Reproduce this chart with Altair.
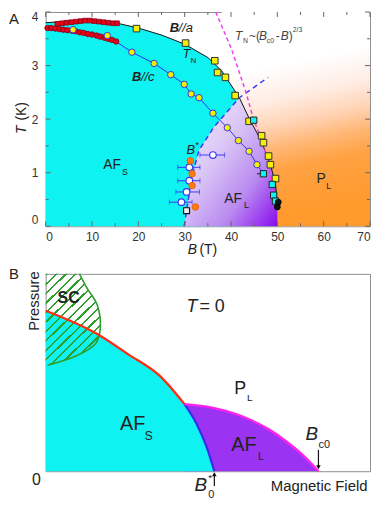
import altair as alt
import pandas as pd

FONT = "Liberation Sans"
WA, HA = 327, 216
WB, HB = 327, 199

# ---------------- Panel A data ----------------
x_ticks = [0, 10, 20, 30, 40, 50, 60, 70]
x_minor = [5, 15, 25, 35, 45, 55, 65]
y_ticks = [0, 1, 2, 3, 4]
y_minor = [0.5, 1.5, 2.5, 3.5]

# T_N boundary (B//a, black curve)
tn_B = [0, 5, 9, 15, 20, 25, 30, 35, 38, 41.8, 44, 46.5, 48.5, 49.6, 50]
tn_T = [3.8, 3.83, 3.85, 3.8, 3.7, 3.57, 3.4, 3.15, 2.9, 2.4, 2.0, 1.6, 1.15, 0.8, 0.42]

# AF_L region upper edge (B* line then T_N)
afl_B = [29.9, 30.6, 31.6, 33.1, 36.3, 41.8, 44, 46.5, 48.5, 49.6, 50]
afl_T = [0, 0.4, 0.95, 1.42, 1.85, 2.4, 2.0, 1.6, 1.15, 0.8, 0.42]

# P_L shaded band
pl_B = [38]
pl_B2 = [70]

# B* dashed line
bs_B = [29.9, 30.6, 31.6, 33.1, 36.3, 41.8, 48]
bs_T = [0, 0.4, 0.95, 1.42, 1.85, 2.4, 2.78]

# T_N ~ (Bc0-B)^(2/3) dashed line
sc_B = [36.7, 40.1, 43.2, 44.9, 46.4, 48.1, 48.9, 49.7]
sc_T = [4.0, 3.31, 2.51, 1.98, 1.67, 1.18, 0.69, 0.35]

# B//c line
bc_B = [0, 5.9, 13.3, 18.6, 23.4, 27.0, 29.9, 31.4, 33.1, 36.1, 39.2, 41.6, 43.9, 45.6, 47.0]
bc_T = [3.7, 3.67, 3.56, 3.25, 3.04, 2.83, 2.65, 2.47, 2.40, 2.11, 1.84, 1.6, 1.4, 1.15, 0.98]

red_sq_B = [2.5, 3.5, 4.5, 5.5, 6.5, 7.5, 8.5, 9.5, 10.5, 11.5, 12.5, 13.5, 14.5, 15.4]
red_sq_T = [3.78, 3.79, 3.8, 3.81, 3.82, 3.83, 3.84, 3.84, 3.83, 3.82, 3.81, 3.8, 3.79, 3.79]

red_ci_B = [0.4, 1.2, 2.1, 3.0, 3.8, 4.7, 5.7, 6.5, 7.4, 8.2, 9.1, 10.0, 11.0, 11.8, 12.7, 13.5, 14.3, 15.2]
red_ci_T = [3.70, 3.70, 3.69, 3.68, 3.67, 3.66, 3.65, 3.64, 3.62, 3.61, 3.59, 3.58, 3.56, 3.54, 3.52, 3.50, 3.48, 3.45]

yel_ci_B = [5.9, 13.3, 18.6, 23.4, 27.0, 29.9, 31.4, 33.1, 36.1, 39.2, 41.6, 43.9, 45.6]
yel_ci_T = [3.67, 3.56, 3.25, 3.04, 2.83, 2.65, 2.47, 2.40, 2.11, 1.84, 1.6, 1.4, 1.15]

yel_sq_B = [19.6, 30.2, 36.5, 37.1, 38.8, 40.9, 43.9, 46.6, 47.0, 48.1, 48.5, 49.6]
yel_sq_T = [3.69, 3.42, 3.09, 2.87, 2.78, 2.44, 1.96, 1.69, 1.56, 1.31, 1.15, 0.89]

cy_sq_B = [44.9, 47.0, 48.9, 49.2, 49.6]
cy_sq_T = [1.98, 0.98, 0.78, 0.58, 0.47]
cy_lo = [44.9, 45.6, 48.9, 49.2, 49.6]
cy_hi = [44.9, 47.6, 48.9, 49.2, 49.6]

blk_ci_B = [50.2, 50.0]
blk_ci_T = [0.45, 0.36]

open_B = [36.1, 31.0, 31.0, 30.4, 29.3]
open_T = [1.33, 1.1, 0.85, 0.64, 0.45]
open_lo = [33.3, 28.5, 28.5, 28.1, 26.7]
open_hi = [38.6, 33.3, 33.3, 33.2, 31.6]

or_B = [31.2, 31.6, 31.6, 32.3]
or_T = [1.22, 0.98, 0.76, 0.36]

osq_B = [30.4]
osq_T = [0.29]

# ---------------- Panel B data (arbitrary units 0-100) ----------------
red_X = [0, 15.9, 25.1, 35.2, 42.8]
red_Y = [81.3, 69.5, 59.6, 48.3, 34.0]
blue_X = [42.8, 46.5, 49.5, 52.0]
blue_Y = [34.0, 24.1, 12.8, 0]
mag_X = [42.8, 50.5, 60.9, 68.8, 74.0, 80.1, 84.1]
mag_Y = [34.0, 32.5, 27.6, 21.2, 15.3, 6.9, 0]
scr_X = [0.6, 8.9, 15.3, 16.8, 15.9, 12.8, 10.4]
scr_Y = [53.7, 58.1, 64.5, 71.9, 84.2, 92.6, 100]

CYAN = "#0EF2F2"

# ---------------- helpers ----------------
xA = alt.Scale(domain=[0, 70], nice=False, zero=False)
yA = alt.Scale(domain=[0, 4], nice=False, zero=False)
axX = alt.Axis(values=x_ticks, ticks=False, domain=False, grid=False, labelPadding=5,
               title=None, labelFontSize=12, labelFont=FONT, labelColor="#333")
axY = alt.Axis(values=y_ticks, ticks=False, domain=False, grid=False, labelPadding=8,
               title=None, labelFontSize=12, labelFont=FONT, labelColor="#333", labelFlush=True)


def XA(f="B"):
    return alt.X(f"{f}:Q", scale=xA, axis=axX)


def YA(f="T"):
    return alt.Y(f"{f}:Q", scale=yA, axis=axY)


xB = alt.Scale(domain=[0, 100], nice=False, zero=False)
yB = alt.Scale(domain=[0, 100], nice=False, zero=False)


def XB(f="X"):
    return alt.X(f"{f}:Q", scale=xB, axis=None)


def YB(f="Y"):
    return alt.Y(f"{f}:Q", scale=yB, axis=None)


def ya(v):  # reference pixel offset inside panel A -> this panel
    return v * HA / 220.0 if v <= 220 else HA + (v - 220)


def yb(v):  # reference pixel offset inside panel B -> this panel
    return v * HB / 203.0 if v <= 203 else HB + (v - 203)


def label(text, x, y, size=13, style="normal", weight="normal", align="left",
          baseline="middle", angle=None, color="#222"):
    kw = dict(text=text, fontSize=size, fontStyle=style, fontWeight=weight, align=align,
              baseline=baseline, color=color, font=FONT)
    if angle is not None:
        kw["angle"] = angle
    return alt.Chart(pd.DataFrame({"a": [0]})).mark_text(**kw).encode(
        x=alt.value(x), y=alt.value(y))


def grad(stops, x1=0, y1=0, x2=0, y2=1):
    return alt.Gradient(gradient="linear", x1=x1, y1=y1, x2=x2, y2=y2,
                        stops=[alt.GradientStop(color=c, offset=o) for o, c in stops])


def df(**kw):
    return pd.DataFrame(kw)


def pts(B, T, shape, size, fill, stroke, sw=1.0):
    return alt.Chart(df(B=B, T=T)).mark_point(
        shape=shape, size=size, filled=True, fill=fill, stroke=stroke, strokeWidth=sw,
        opacity=1, fillOpacity=1).encode(x=XA(), y=YA())


# ---------------- Panel A layers ----------------
orange = alt.Chart(df(B=pl_B, B2=pl_B2, T=[4], T2=[0])).mark_rect(
    color=grad([(0, "#FFFFFF"), (0.3, "#FFFFFF"), (0.45, "#FFEDE4"), (0.57, "#FFD4B6"),
                (0.67, "#FFB878"), (0.78, "#FFA243"), (1, "#FF9A2C")], x1=0, y1=0.0, x2=0.15, y2=1.0)
).encode(x=XA(), x2="B2:Q", y=YA(), y2="T2:Q")

cyan = alt.Chart(df(B=tn_B, T=tn_T)).mark_area(color=CYAN, opacity=1).encode(x=XA(), y=YA())

lav = alt.Chart(df(B=afl_B, T=afl_T)).mark_area(
    color=grad([(0, "#F4EFFC"), (0.4, "#DAC6F6"), (0.7, "#B98AF0"), (1, "#8A0BEE")],
               x1=0, y1=0, x2=1, y2=1), opacity=1).encode(x=XA(), y=YA())

tn_line = alt.Chart(df(B=tn_B, T=tn_T)).mark_line(color="#111", strokeWidth=1).encode(x=XA(), y=YA())
bc_line = alt.Chart(df(B=bc_B, T=bc_T)).mark_line(color="#3030F0", strokeWidth=1).encode(x=XA(), y=YA())
bs_line = alt.Chart(df(B=bs_B, T=bs_T)).mark_line(color="#3A3AF5", strokeWidth=1.5,
                                                  strokeDash=[5, 4]).encode(x=XA(), y=YA())
sc_line = alt.Chart(df(B=sc_B, T=sc_T)).mark_line(color="#F03CF0", strokeWidth=1.5,
                                                  strokeDash=[4, 3], clip=True).encode(x=XA(), y=YA())

err_open = alt.Chart(df(B=open_lo, B2=open_hi, T=open_T)).mark_rule(color="#3A3AF5", strokeWidth=1).encode(
    x=XA(), x2="B2:Q", y=YA())
cap_lo = alt.Chart(df(B=open_lo, T=open_T)).mark_tick(orient="vertical", size=5, thickness=1,
                                                      color="#3A3AF5").encode(x=XA(), y=YA())
cap_hi = alt.Chart(df(B=open_hi, T=open_T)).mark_tick(orient="vertical", size=5, thickness=1,
                                                      color="#3A3AF5").encode(x=XA(), y=YA())
err_cy = alt.Chart(df(B=cy_lo, B2=cy_hi, T=cy_sq_T)).mark_rule(color="#222", strokeWidth=1).encode(
    x=XA(), x2="B2:Q", y=YA())

m_red_sq = pts(red_sq_B, red_sq_T, "square", 22, "#E5001B", "#8A0010", 0.8)
m_red_ci = pts(red_ci_B, red_ci_T, "circle", 30, "#E5001B", "#7A0010", 0.8)
m_yel_sq = pts(yel_sq_B, yel_sq_T, "square", 44, "#F4F000", "#333", 1)
m_yel_ci = pts(yel_ci_B, yel_ci_T, "circle", 42, "#F4F000", "#3535E0", 1)
m_cy_sq = pts(cy_sq_B, cy_sq_T, "square", 40, CYAN, "#222", 1)
m_blk = pts(blk_ci_B, blk_ci_T, "circle", 34, "#111", "#000", 1)
m_or = pts(or_B, or_T, "circle", 44, "#FF7A12", "#E06000", 0.8)
m_open = pts(open_B, open_T, "circle", 44, "#FFFFFF", "#3A3AF5", 1.2)
m_osq = pts(osq_B, osq_T, "square", 36, "#EEEEEE", "#111", 1.2)

# inner ticks
tk = []
for vals, ln in ((x_ticks, 5), (x_minor, 3)):
    d = df(B=vals)
    tk.append(alt.Chart(d).mark_rule(color="#666").encode(x=XA(), y=alt.value(HA), y2=alt.value(HA - ln)))
    tk.append(alt.Chart(d).mark_rule(color="#666").encode(x=XA(), y=alt.value(0), y2=alt.value(ln)))
for vals, ln in ((y_ticks, 5), (y_minor, 3)):
    d = df(T=vals)
    tk.append(alt.Chart(d).mark_rule(color="#666").encode(y=YA(), x=alt.value(0), x2=alt.value(ln)))
    tk.append(alt.Chart(d).mark_rule(color="#666").encode(y=YA(), x=alt.value(WA), x2=alt.value(WA - ln)))

textsA = [
    label("A", -37, 0, 15, baseline="top"),
    label("B", 125, ya(16), 13, style="italic", weight="bold"),
    label("//a", 134, ya(16), 13, style="italic"),
    label("T", 138, ya(43), 13, style="italic"),
    label("N", 146, ya(50), 8),
    label("B", 87, ya(67), 13, style="italic", weight="bold"),
    label("//c", 96, ya(67), 13, style="italic"),
    label("B", 142, ya(142), 13, style="italic"),
    label("*", 151, ya(137), 9),
    label("AF", 58, ya(157), 14),
    label("S", 77, ya(164), 9),
    label("AF", 180, ya(192), 14),
    label("L", 200, ya(198), 9),
    label("P", 273, ya(172), 14),
    label("L", 283, ya(179), 9),
    label("T", 191, ya(25), 12, style="italic", color="#444"),
    label("N", 199, ya(30), 7, color="#444"),
    label("~(", 205, ya(25), 12, color="#444"),
    label("B", 215, ya(25), 12, style="italic", color="#444"),
    label("c0", 223, ya(30), 7, color="#444"),
    label("-", 232, ya(25), 12, color="#444"),
    label("B", 237, ya(25), 12, style="italic", color="#444"),
    label(")", 245, ya(25), 12, color="#444"),
    label("2/3", 249, ya(18), 7, color="#444"),
    label("T", -24, ya(121), 14, style="italic", align="center", angle=270),
    label("(K)", -24, ya(102), 14, align="center", angle=270),
    label("B", 148, HA + 24, 14, style="italic", align="center"),
    label("(T)", 155, HA + 24, 14),
]

panelA = alt.layer(
    orange, cyan, lav, tn_line, bc_line, bs_line, sc_line,
    err_open, cap_lo, cap_hi, err_cy,
    m_red_sq, m_red_ci, m_yel_ci, m_yel_sq, m_cy_sq, m_blk, m_open, m_or, m_osq,
    *tk, *textsA
).properties(width=WA, height=HA)

# ---------------- Panel B layers ----------------
cyan_top_X = red_X + blue_X[1:]
cyan_top_Y = red_Y + blue_Y[1:]

purple = alt.Chart(df(X=mag_X, Y=mag_Y)).mark_area(color="#9B33F2", opacity=1,
                                                   interpolate="monotone").encode(x=XB(), y=YB())
cyanB = alt.Chart(df(X=cyan_top_X, Y=cyan_top_Y)).mark_area(color=CYAN, opacity=1,
                                                            interpolate="monotone").encode(x=XB(), y=YB())

stops = []
n_str = 13
for i in range(n_str):
    a = i / n_str
    b = (i + 0.24) / n_str
    stops += [(a, "#2E9E2E"), (b, "#2E9E2E"), (b, "rgba(255,255,255,0)"), ((i + 1) / n_str, "rgba(255,255,255,0)")]

sc_fill = alt.Chart(df(X=scr_X, Y=scr_Y, Z=[0] * len(scr_X))).mark_area(
    orient="horizontal", interpolate="catmull-rom",
    color=grad(stops, x1=0, y1=0, x2=0.585, y2=1), opacity=1).encode(
    y=YB(), x=XB(), x2="Z:Q")
sc_edge = alt.Chart(df(X=scr_X, Y=scr_Y, o=list(range(len(scr_X))))).mark_line(
    color="#2E9E2E", strokeWidth=1.6, interpolate="catmull-rom").encode(
    x=XB(), y=YB(), order="o:Q")

red_line = alt.Chart(df(X=red_X, Y=red_Y)).mark_line(color="#FF2A10", strokeWidth=2.2,
                                                     interpolate="monotone").encode(x=XB(), y=YB())
blue_line = alt.Chart(df(X=blue_X, Y=blue_Y)).mark_line(color="#3A2AF0", strokeWidth=2.2,
                                                        interpolate="monotone").encode(x=XB(), y=YB())
mag_line = alt.Chart(df(X=mag_X, Y=mag_Y)).mark_line(color="#FF22EE", strokeWidth=2.4,
                                                     interpolate="monotone").encode(x=XB(), y=YB())

bc0 = df(X=[mag_X[-1]])
b0 = df(X=[blue_X[-1]])
arr1 = alt.Chart(bc0).mark_rule(color="#111", strokeWidth=1.2).encode(
    x=XB(), y=alt.value(yb(181)), y2=alt.value(HB - 5))
arr1h = alt.Chart(bc0).mark_point(shape="triangle-down", size=22, filled=True, color="#111", opacity=1).encode(
    x=XB(), y=alt.value(HB - 4))
arr2 = alt.Chart(b0).mark_rule(color="#111", strokeWidth=1.2).encode(
    x=XB(), y=alt.value(HB + 15), y2=alt.value(HB + 4))
arr2h = alt.Chart(b0).mark_point(shape="triangle-up", size=22, filled=True, color="#111", opacity=1).encode(
    x=XB(), y=alt.value(HB + 3))

textsB = [
    label("B", -37, 0, 15),
    label("Pressure", -12, yb(28), 15, align="center", angle=270),
    label("SC", 12, yb(25), 16, weight="bold"),
    label("T", 142, yb(34), 18, style="italic"),
    label("= 0", 155, yb(34), 18),
    label("P", 190, yb(118), 18),
    label("L", 203, yb(128), 10),
    label("AF", 75, yb(155), 20),
    label("S", 100, yb(167), 12),
    label("AF", 187, yb(176), 20),
    label("L", 214, yb(188), 11),
    label("B", 262, yb(165), 19, style="italic"),
    label("c0", 275, yb(176), 11),
    label("B", 150, HB + 14, 19, style="italic"),
    label("0", 164, HB + 24, 11),
    label("*", 164, HB + 7, 10),
    label("Magnetic Field", 227, HB + 15, 15),
    label("0", -5, HB + 9, 16, align="right"),
]

panelB = alt.layer(
    purple, cyanB, sc_fill, sc_edge, red_line, blue_line, mag_line,
    arr1, arr1h, arr2, arr2h, *textsB
).properties(width=WB, height=HB)

chart = alt.vconcat(panelA, panelB, spacing=8).resolve_scale(
    x="independent", y="independent").properties(padding=0).configure_view(
    stroke="#8f8f8f", strokeWidth=1)

chart.save("out.html", embed_options={"renderer": "svg", "actions": False})
